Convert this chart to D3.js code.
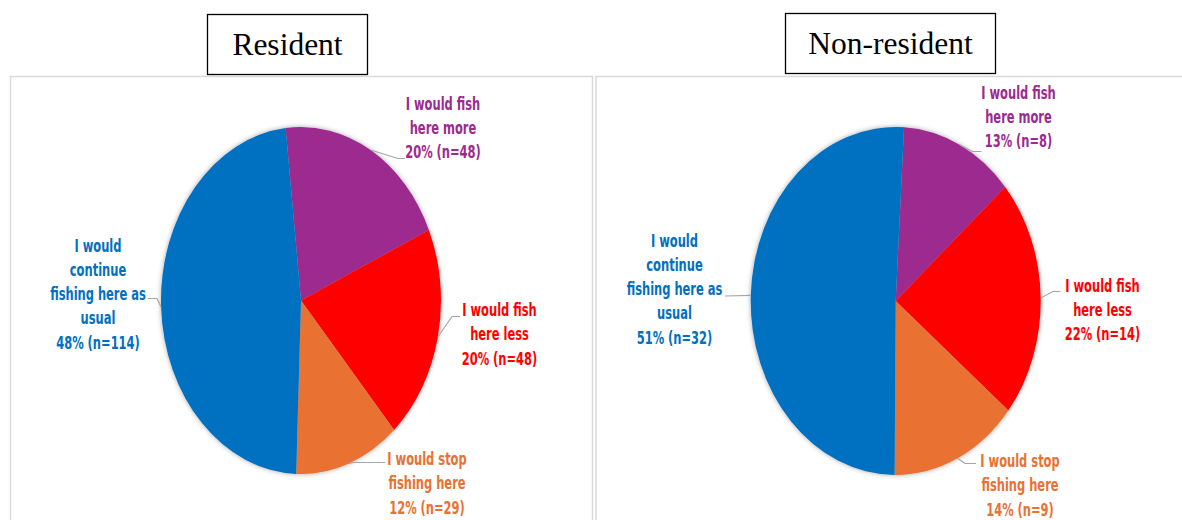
<!DOCTYPE html>
<html>
<head>
<meta charset="utf-8">
<script src="https://cdn.jsdelivr.net/npm/d3@7"></script>
<style>
  html, body { margin: 0; padding: 0; background: #fff; }
  svg { display: block; }
</style>
</head>
<body>
<svg id="chart" width="1182" height="520"></svg>
<script>
// Survey answers: how fishing behaviour would change
const categories = [
  "I would fish here more",
  "I would fish here less",
  "I would stop fishing here",
  "I would continue fishing here as usual"
];
const categoryLabelLines = [
  ["I would fish", "here more"],
  ["I would fish", "here less"],
  ["I would stop", "fishing here"],
  ["I would", "continue", "fishing here as", "usual"]
];
const panelTitles = ["Resident", "Non-resident"];
const residentCounts = [48, 48, 29, 114];
const residentPercents = [20, 20, 12, 48];
const nonResidentCounts = [8, 14, 9, 32];
const nonResidentPercents = [13, 22, 14, 51];

const sliceColors = ["#9C2A8F", "#FF0000", "#E97132", "#0070C0"];

const svg = d3.select("#chart");

// soft shadow around each pie
const defs = svg.append("defs");
defs.append("filter")
  .attr("id", "pieShadow")
  .attr("x", "-20%").attr("y", "-20%").attr("width", "140%").attr("height", "140%")
  .append("feDropShadow")
  .attr("dx", 0).attr("dy", 0)
  .attr("stdDeviation", 2.5)
  .attr("flood-color", "#000")
  .attr("flood-opacity", 0.35);

// Layout for each panel: frame, title box, elliptical pie, label anchors
const panels = [
  {
    title: panelTitles[0],
    counts: residentCounts,
    percents: residentPercents,
    frame: { x: 10.5, y: 76.5, w: 582, h: 460 },
    titleBox: { x: 207.5, y: 14.5, w: 160, h: 60, baseline: 55 },
    cx: 301, cy: 300.5, rx: 140, ry: 173.5,
    startDeg: -6.3,
    labels: [
      { tx: 443, ty: 109.5, end: [405, 158.5], elbow: [398, 158.5] },
      { tx: 499.5, ty: 316, end: [460, 316.5], elbow: [452, 316.5] },
      { tx: 427, ty: 465, end: [385, 462.5], elbow: [353, 462.5] },
      { tx: 98, ty: 251.5, end: [148, 298.5], elbow: [157, 298.5] }
    ]
  },
  {
    title: panelTitles[1],
    counts: nonResidentCounts,
    percents: nonResidentPercents,
    frame: { x: 596, y: 76.5, w: 600, h: 460 },
    titleBox: { x: 785.5, y: 13.5, w: 210, h: 60, baseline: 54 },
    cx: 895.7, cy: 301, rx: 145, ry: 174,
    startDeg: 3.3,
    labels: [
      { tx: 1018.5, ty: 98.5, end: [981.5, 151.5], elbow: [972.5, 151.5] },
      { tx: 1102.5, ty: 291.5, end: [1060.5, 291.5], elbow: [1053, 291.5] },
      { tx: 1020, ty: 467, end: [976, 463.5], elbow: [965, 463.5] },
      { tx: 674.5, ty: 246.5, end: [725, 296], elbow: [725, 296] }
    ]
  }
];

const lineStep = 24.3;
const labelFont = "'DejaVu Sans Condensed', 'DejaVu Sans', sans-serif";
const labelSquash = 0.75; // narrow the condensed face horizontally

panels.forEach(p => {
  const g = svg.append("g");

  // panel frame
  g.append("rect")
    .attr("x", p.frame.x).attr("y", p.frame.y)
    .attr("width", p.frame.w).attr("height", p.frame.h)
    .attr("fill", "none")
    .attr("stroke", "#D9D9D9")
    .attr("stroke-width", 1.5);

  // title box
  g.append("rect")
    .attr("x", p.titleBox.x).attr("y", p.titleBox.y)
    .attr("width", p.titleBox.w).attr("height", p.titleBox.h)
    .attr("fill", "#fff")
    .attr("stroke", "#000")
    .attr("stroke-width", 1.3);
  g.append("text")
    .attr("x", p.titleBox.x + p.titleBox.w / 2)
    .attr("y", p.titleBox.baseline)
    .attr("text-anchor", "middle")
    .attr("font-family", "'Liberation Serif', 'Times New Roman', serif")
    .attr("font-size", 31.5)
    .attr("fill", "#000")
    .text(p.title);

  // pie, drawn as a circle of radius ry and stretched to the ellipse
  const start = p.startDeg * Math.PI / 180;
  const pie = d3.pie().sort(null).value(d => d)
    .startAngle(start).endAngle(start + 2 * Math.PI);
  const arcs = pie(p.counts);
  const arc = d3.arc().innerRadius(0).outerRadius(p.ry);

  const pieG = g.append("g")
    .attr("filter", "url(#pieShadow)")
    .append("g")
    .attr("transform", `translate(${p.cx},${p.cy}) scale(${p.rx / p.ry},1)`);
  pieG.selectAll("path")
    .data(arcs)
    .join("path")
    .attr("d", arc)
    .attr("fill", (d, i) => sliceColors[i]);

  // leader lines: slice mid-angle on the pie edge -> elbow -> label
  arcs.forEach((a, i) => {
    const mid = (a.startAngle + a.endAngle) / 2;
    const ex = p.cx + Math.sin(mid) * p.rx;
    const ey = p.cy - Math.cos(mid) * p.ry;
    const L = p.labels[i];
    g.append("path")
      .attr("d", d3.line()([[ex, ey], L.elbow, L.end]))
      .attr("fill", "none")
      .attr("stroke", "#A6A6A6")
      .attr("stroke-width", 1.2);
  });

  // data labels
  arcs.forEach((a, i) => {
    const L = p.labels[i];
    const lines = categoryLabelLines[i].concat([`${p.percents[i]}% (n=${p.counts[i]})`]);
    const t = g.append("g")
      .attr("transform", `translate(${L.tx},${L.ty}) scale(${labelSquash},1)`)
      .append("text")
      .attr("text-anchor", "middle")
      .attr("font-family", labelFont)
      .attr("font-weight", "bold")
      .attr("font-size", 17)
      .attr("fill", sliceColors[i]);
    lines.forEach((s, k) => {
      t.append("tspan")
        .attr("x", 0)
        .attr("y", k * lineStep)
        .text(s);
    });
  });
});
</script>
</body>
</html>
